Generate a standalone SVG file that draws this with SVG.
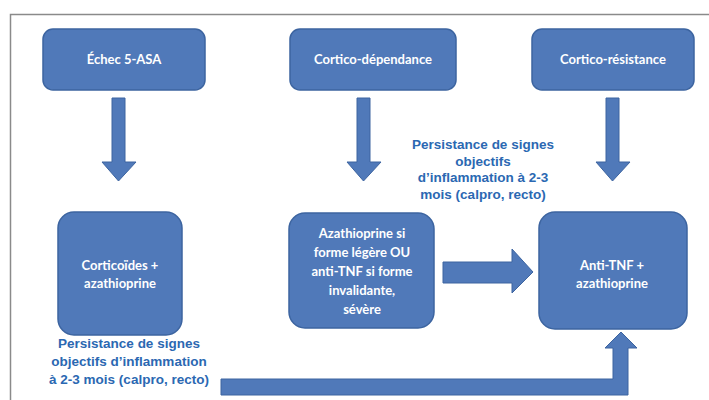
<svg xmlns="http://www.w3.org/2000/svg" width="709" height="400" viewBox="0 0 709 400">
<style>
.box{fill:#5079b9;stroke:#3c64a0;stroke-width:1.5}
.arr{fill:#5079b9;stroke:#3c64a0;stroke-width:1}
.bt{font-family:Lato,"Open Sans","Liberation Sans",sans-serif;font-weight:bold;font-size:13px;fill:#ffffff;text-anchor:middle}
.nt{font-family:"Liberation Sans",Arial,sans-serif;font-weight:bold;font-size:13.5px;fill:#2b68b2;text-anchor:middle}
</style>
<rect width="709" height="400" fill="#ffffff"/>
<path d="M10.5,400 V14.5 H709" fill="none" stroke="#8a8a8a" stroke-width="1.5"/>
<g id="connectors">
<path class="arr" d="M112,98 H125 V162 H136 L118.5,181 L102,162 H112 Z"/>
<path class="arr" d="M357,98 H370 V162 H381 L363.5,181 L347,162 H357 Z"/>
<path class="arr" d="M606,98 H619 V162 H630 L612.5,181 L596,162 H606 Z"/>
<path class="arr" d="M443,262 H512 V249 L533,272 L512,293 V283 H443 Z"/>
<path class="arr" d="M221,379 H613 V348 H605 L621,332 L637,348 H628 V395 H221 Z"/>
</g>
<g id="n1"><rect class="box" x="43" y="29" width="162" height="61" rx="10"/><text class="bt" x="124" y="64">Échec 5-ASA</text></g>
<g id="n2"><rect class="box" x="290" y="29" width="166" height="61" rx="10"/><text class="bt" x="373" y="64">Cortico-dépendance</text></g>
<g id="n3"><rect class="box" x="532" y="29" width="162" height="61" rx="10"/><text class="bt" x="613" y="64">Cortico-résistance</text></g>
<g id="n4"><rect class="box" x="58" y="212" width="124" height="123" rx="16"/><text class="bt" x="120" y="270">Corticoïdes +</text><text class="bt" x="120" y="288">azathioprine</text></g>
<g id="n5"><rect class="box" x="289" y="213" width="145" height="115" rx="16"/><text class="bt" x="362" y="238">Azathioprine si</text><text class="bt" x="362" y="257">forme légère OU</text><text class="bt" x="362" y="276">anti-TNF si forme</text><text class="bt" x="362" y="295">invalidante,</text><text class="bt" x="362" y="314">sévère</text></g>
<g id="n6"><rect class="box" x="539" y="212" width="148" height="117" rx="16"/><text class="bt" x="612" y="270">Anti-TNF +</text><text class="bt" x="612" y="288">azathioprine</text></g>
<g id="label1"><text class="nt" x="483" y="149">Persistance de signes</text><text class="nt" x="483" y="166">objectifs</text><text class="nt" x="483" y="182">d’inflammation à 2-3</text><text class="nt" x="483" y="199">mois (calpro, recto)</text></g>
<g id="label2"><text class="nt" x="129" y="348">Persistance de signes</text><text class="nt" x="129" y="366">objectifs d’inflammation</text><text class="nt" x="129" y="384">à 2-3 mois (calpro, recto)</text></g>
</svg>
